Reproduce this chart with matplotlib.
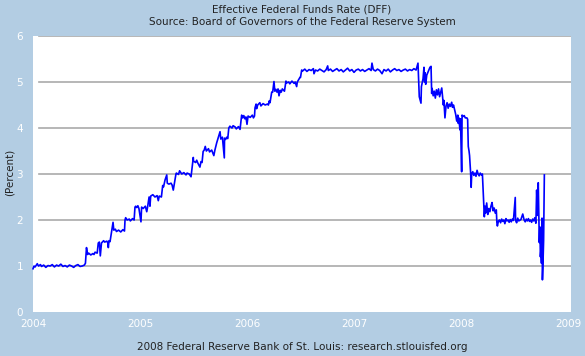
import matplotlib
matplotlib.use("Agg")
import matplotlib.pyplot as plt

title_lines = ["Effective Federal Funds Rate (DFF)",
               "Source: Board of Governors of the Federal Reserve System"]
y_label = "(Percent)"
footer = "2008 Federal Reserve Bank of St. Louis: research.stlouisfed.org"
x_ticks = [2004, 2005, 2006, 2007, 2008, 2009]
y_ticks = [0, 1, 2, 3, 4, 5, 6]

# decimal-year dates and effective federal funds rate (%)
dates_2004 = [2004.00, 2004.01, 2004.02, 2004.04, 2004.05, 2004.07, 2004.08, 2004.10, 2004.12, 2004.14,
              2004.16, 2004.18, 2004.20, 2004.22, 2004.24, 2004.26, 2004.28, 2004.30, 2004.32, 2004.34,
              2004.36, 2004.38, 2004.40, 2004.42, 2004.44, 2004.46, 2004.48, 2004.49, 2004.50, 2004.51,
              2004.52, 2004.54, 2004.56, 2004.57, 2004.58, 2004.60, 2004.61, 2004.62, 2004.629, 2004.64,
              2004.66, 2004.67, 2004.69, 2004.70, 2004.704, 2004.71, 2004.72, 2004.735, 2004.748, 2004.755,
              2004.77, 2004.78, 2004.80, 2004.82, 2004.84, 2004.855, 2004.86, 2004.866, 2004.88, 2004.90,
              2004.91, 2004.93, 2004.945, 2004.953, 2004.96, 2004.97, 2004.98, 2004.99]
rates_2004 = [0.94, 1.00, 0.98, 1.05, 1.00, 1.03, 0.99, 1.02, 0.97, 1.01,
              1.00, 1.03, 0.98, 1.02, 1.00, 1.04, 0.99, 1.01, 0.98, 1.02,
              1.00, 0.97, 1.01, 1.03, 0.99, 1.00, 1.02, 1.06, 1.40, 1.25,
              1.28, 1.24, 1.27, 1.25, 1.30, 1.28, 1.50, 1.52, 1.22, 1.50,
              1.55, 1.52, 1.54, 1.50, 1.40, 1.55, 1.53, 1.75, 1.95, 1.78,
              1.80, 1.75, 1.78, 1.74, 1.79, 1.76, 2.00, 2.05, 2.00, 2.02,
              1.98, 2.03, 2.00, 2.28, 2.30, 2.27, 2.31, 2.25]

dates_2005 = [2005.009, 2005.015, 2005.03, 2005.05, 2005.063, 2005.07, 2005.085, 2005.093, 2005.10, 2005.12,
              2005.14, 2005.16, 2005.171, 2005.18, 2005.20, 2005.212, 2005.22, 2005.234, 2005.25, 2005.255,
              2005.27, 2005.29, 2005.30, 2005.311, 2005.32, 2005.336, 2005.34, 2005.36, 2005.37, 2005.39,
              2005.41, 2005.43, 2005.44, 2005.46, 2005.477, 2005.498, 2005.50, 2005.52, 2005.53, 2005.54,
              2005.56, 2005.57, 2005.58, 2005.59, 2005.60, 2005.61, 2005.62, 2005.64, 2005.65, 2005.67,
              2005.69, 2005.70, 2005.717, 2005.73, 2005.748, 2005.755, 2005.77, 2005.788, 2005.79, 2005.80,
              2005.81, 2005.82, 2005.83, 2005.84, 2005.86, 2005.87, 2005.89, 2005.90, 2005.92, 2005.935,
              2005.95, 2005.955, 2005.96, 2005.97, 2005.98, 2005.99]
rates_2005 = [1.96, 2.28, 2.25, 2.30, 2.18, 2.27, 2.50, 2.30, 2.52, 2.55,
              2.50, 2.53, 2.42, 2.52, 2.50, 2.75, 2.72, 2.87, 2.98, 2.80,
              2.78, 2.80, 2.76, 2.65, 2.78, 3.00, 3.02, 2.99, 3.07, 3.00,
              3.03, 2.98, 3.02, 3.00, 2.94, 3.36, 3.28, 3.25, 3.30, 3.24,
              3.15, 3.27, 3.25, 3.49, 3.52, 3.60, 3.50, 3.55, 3.48, 3.52,
              3.40, 3.52, 3.68, 3.78, 3.92, 3.76, 3.80, 3.35, 3.78, 3.75,
              3.80, 3.77, 4.00, 4.04, 4.00, 4.05, 4.02, 3.98, 4.03, 3.97,
              4.28, 4.25, 4.22, 4.27, 4.20, 4.24]

dates_2006 = [2006.00, 2006.01, 2006.03, 2006.05, 2006.06, 2006.07, 2006.075, 2006.085, 2006.09, 2006.10,
              2006.12, 2006.13, 2006.15, 2006.17, 2006.19, 2006.20, 2006.208, 2006.215, 2006.231, 2006.24,
              2006.252, 2006.26, 2006.27, 2006.28, 2006.29, 2006.299, 2006.31, 2006.32, 2006.33, 2006.35,
              2006.364, 2006.37, 2006.39, 2006.40, 2006.42, 2006.44, 2006.45, 2006.464, 2006.47, 2006.495,
              2006.50, 2006.511, 2006.52, 2006.54, 2006.56, 2006.58, 2006.60, 2006.62, 2006.626, 2006.64,
              2006.66, 2006.68, 2006.70, 2006.72, 2006.74, 2006.754, 2006.76, 2006.78, 2006.80, 2006.82,
              2006.84, 2006.86, 2006.88, 2006.90, 2006.92, 2006.94, 2006.96, 2006.98]
rates_2006 = [4.08, 4.26, 4.23, 4.28, 4.22, 4.26, 4.44, 4.52, 4.42, 4.50,
              4.55, 4.48, 4.53, 4.50, 4.52, 4.50, 4.59, 4.55, 4.78, 4.78,
              5.01, 4.80, 4.84, 4.78, 4.85, 4.70, 4.82, 4.78, 4.85, 4.80,
              5.02, 4.98, 5.00, 4.96, 5.02, 4.97, 5.00, 4.90, 5.00, 5.10,
              5.10, 5.26, 5.24, 5.28, 5.23, 5.27, 5.25, 5.29, 5.18, 5.26,
              5.24, 5.28, 5.25, 5.22, 5.27, 5.35, 5.25, 5.28, 5.23, 5.26,
              5.29, 5.24, 5.27, 5.22, 5.26, 5.30, 5.24, 5.27]

dates_2007 = [2007.00, 2007.02, 2007.04, 2007.06, 2007.08, 2007.10, 2007.12, 2007.14, 2007.16, 2007.168,
              2007.18, 2007.20, 2007.22, 2007.24, 2007.262, 2007.28, 2007.30, 2007.32, 2007.34, 2007.36,
              2007.38, 2007.40, 2007.42, 2007.44, 2007.46, 2007.48, 2007.50, 2007.52, 2007.54, 2007.56,
              2007.58, 2007.598, 2007.61, 2007.626, 2007.63, 2007.645, 2007.654, 2007.66, 2007.665, 2007.67,
              2007.68, 2007.71, 2007.72, 2007.726, 2007.73, 2007.74, 2007.75, 2007.76, 2007.77, 2007.78,
              2007.79, 2007.80, 2007.81, 2007.82, 2007.835, 2007.84, 2007.85, 2007.86, 2007.87, 2007.88,
              2007.89, 2007.90, 2007.913, 2007.92, 2007.93, 2007.94, 2007.95, 2007.96, 2007.97, 2007.975,
              2007.98, 2007.99, 2007.995]
rates_2007 = [5.21, 5.26, 5.28, 5.24, 5.27, 5.23, 5.26, 5.29, 5.25, 5.41,
              5.27, 5.24, 5.28, 5.25, 5.18, 5.27, 5.24, 5.28, 5.22, 5.26,
              5.29, 5.25, 5.27, 5.23, 5.26, 5.28, 5.24, 5.27, 5.25, 5.29,
              5.26, 5.41, 4.68, 4.54, 4.90, 5.07, 5.32, 5.00, 5.20, 4.95,
              5.15, 5.32, 5.34, 4.75, 4.86, 4.70, 4.80, 4.65, 4.83, 4.72,
              4.85, 4.68, 4.78, 4.87, 4.50, 4.60, 4.22, 4.48, 4.55, 4.43,
              4.52, 4.47, 4.56, 4.45, 4.50, 4.40, 4.30, 4.15, 4.28, 4.10,
              4.22, 3.96, 4.20]

dates_2008 = [2008.006, 2008.01, 2008.02, 2008.03, 2008.04, 2008.055, 2008.062, 2008.068, 2008.075, 2008.08,
              2008.084, 2008.09, 2008.095, 2008.10, 2008.11, 2008.12, 2008.13, 2008.14, 2008.15, 2008.16,
              2008.17, 2008.18, 2008.19, 2008.20, 2008.218, 2008.225, 2008.23, 2008.24, 2008.25, 2008.26,
              2008.27, 2008.28, 2008.29, 2008.30, 2008.31, 2008.32, 2008.33, 2008.335, 2008.34, 2008.35,
              2008.36, 2008.37, 2008.38, 2008.39, 2008.40, 2008.41, 2008.42, 2008.43, 2008.44, 2008.45,
              2008.46, 2008.47, 2008.48, 2008.49, 2008.507, 2008.51, 2008.52, 2008.53, 2008.54, 2008.56,
              2008.577, 2008.59, 2008.60, 2008.61, 2008.62, 2008.63, 2008.64, 2008.65, 2008.66, 2008.67,
              2008.68, 2008.69, 2008.70, 2008.707, 2008.715, 2008.722, 2008.732, 2008.737, 2008.742, 2008.747,
              2008.752, 2008.757, 2008.761, 2008.765, 2008.772, 2008.779]
rates_2008 = [3.05, 4.28, 4.25, 4.27, 4.22, 4.22, 4.19, 3.60, 3.50, 3.40,
              3.24, 3.02, 2.71, 3.00, 3.05, 2.97, 3.02, 2.95, 3.08, 3.00,
              2.96, 3.02, 2.98, 3.00, 2.07, 2.30, 2.15, 2.37, 2.12, 2.25,
              2.18, 2.30, 2.38, 2.20, 2.26, 2.15, 2.22, 1.95, 1.87, 1.98,
              2.00, 1.94, 2.02, 1.97, 2.00, 1.92, 2.03, 1.98, 2.00, 1.95,
              2.01, 1.96, 2.02, 1.99, 2.49, 1.99, 1.94, 2.04, 1.98, 2.01,
              2.13, 2.00, 1.96, 2.02, 1.98, 2.03, 1.97, 2.00, 1.95, 2.02,
              1.98, 2.05, 1.93, 2.65, 2.10, 2.81, 1.51, 1.85, 1.20, 1.35,
              1.06, 2.04, 0.70, 0.96, 1.55, 2.98]

dates = dates_2004 + dates_2005 + dates_2006 + dates_2007 + dates_2008
rates = rates_2004 + rates_2005 + rates_2006 + rates_2007 + rates_2008

W, H = 585, 356
bg = "#B3CDE3"
fig = plt.figure(figsize=(W / 100, H / 100), dpi=100, facecolor=bg)
ax = fig.add_axes([33 / W, 1 - 312 / H, (571 - 33) / W, (312 - 36) / H])
ax.set_facecolor("white")
for s in ax.spines.values():
    s.set_visible(False)

ax.set_xlim(2004.0, 2009.028)
ax.set_ylim(0, 6)
for yv in y_ticks[1:]:
    ax.axhline(yv, xmin=6 / 538, xmax=1, color="#AAAAAA", lw=1.2, zorder=1)

ax.plot(dates, rates, color="#0000FF", lw=1.2, zorder=3, clip_on=False)

ax.set_xticks(x_ticks)
ax.set_xticklabels([str(t) for t in x_ticks])
ax.set_yticks(y_ticks)
ax.set_yticklabels([str(t) for t in y_ticks])
ax.tick_params(length=0, colors="white", labelsize=7.5)
ax.tick_params(axis="y", pad=7)
ax.tick_params(axis="x", pad=5)

fig.text(10 / W, 1 - 172 / H, y_label, rotation=90, ha="center", va="center",
         fontsize=7.5, color="#222222")
fig.text(302 / W, 1 - 9 / H, title_lines[0], ha="center", va="center", fontsize=7.5, color="#222222")
fig.text(302 / W, 1 - 22 / H, title_lines[1], ha="center", va="center", fontsize=7.5, color="#222222")
fig.text(302 / W, 1 - 347 / H, footer, ha="center", va="center", fontsize=7.5, color="#222222")

fig.savefig("out.png", dpi=100, facecolor=bg)
